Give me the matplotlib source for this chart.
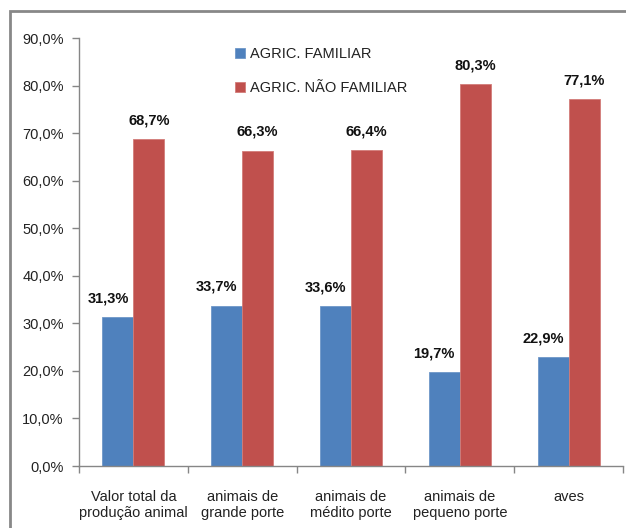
import matplotlib
matplotlib.use("Agg")
import matplotlib.pyplot as plt
from matplotlib.patches import Rectangle
import numpy as np

categories = ["Valor total da\nprodução animal", "animais de\ngrande porte",
              "animais de\nmédito porte", "animais de\npequeno porte", "aves"]
familiar = [31.3, 33.7, 33.6, 19.7, 22.9]
nao_familiar = [68.7, 66.3, 66.4, 80.3, 77.1]
series_names = ["AGRIC. FAMILIAR", "AGRIC. NÃO FAMILIAR"]
yticks = [0, 10, 20, 30, 40, 50, 60, 70, 80, 90]

plt.rcParams['font.family'] = ["Liberation Sans", "DejaVu Sans"]
FS = 10.5

W, H = 626, 528
fig = plt.figure(figsize=(W/100, H/100), dpi=100)
ax = fig.add_axes([79/W, 1 - 466/H, (623-79)/W, (466-38)/H])

x = np.arange(len(categories))
bw = 0.285
blue = "#4F81BD"
red = "#C0504D"
ax.bar(x - bw/2, familiar, bw, color=blue, edgecolor="#6E97C8", linewidth=0.6, label=series_names[0])
ax.bar(x + bw/2, nao_familiar, bw, color=red, edgecolor="#D27C79", linewidth=0.6, label=series_names[1])

for xi, v in zip(x, familiar):
    ax.annotate(f"{v:.1f}%".replace(".", ","), (xi - bw/2, v), xytext=(-10, 12),
                textcoords="offset pixels", ha="center", va="bottom",
                fontsize=FS, fontweight="bold", color="#111111")
for xi, v in zip(x, nao_familiar):
    ax.annotate(f"{v:.1f}%".replace(".", ","), (xi + bw/2, v), xytext=(0, 12),
                textcoords="offset pixels", ha="center", va="bottom",
                fontsize=FS, fontweight="bold", color="#111111")

ax.set_xlim(-0.5, len(categories) - 0.5)
ax.set_ylim(0, 90)
ax.set_yticks(yticks)
ax.set_yticklabels([f"{t:.1f}%".replace(".", ",") for t in yticks], fontsize=FS, color="#222222")
ax.set_xticks(x)
ax.set_xticklabels(categories, fontsize=FS, linespacing=1.2, color="#222222")
ax.set_xticks(np.arange(-0.5, len(categories)), minor=True)
ax.tick_params(axis="x", which="major", length=0, pad=17)
ax.tick_params(axis="x", which="minor", length=5, color="#868686", width=1)
ax.tick_params(axis="y", length=5, color="#868686", width=1, pad=6)

for s in ["top", "right"]:
    ax.spines[s].set_visible(False)
for s in ["left", "bottom"]:
    ax.spines[s].set_color("#868686")
    ax.spines[s].set_linewidth(1)

ax.legend(loc="upper left", bbox_to_anchor=((229 - 79) / (623 - 79), 1.0 - 3/428), frameon=False,
          fontsize=FS, handlelength=0.7, handleheight=0.7, handletextpad=0.35,
          labelspacing=1.4, borderaxespad=0, labelcolor="#222222")

fig.patches.append(Rectangle((10/W, -0.1), 1.2, 1.1 - 11/H, transform=fig.transFigure,
                             fill=False, edgecolor="#888888", linewidth=2))

fig.savefig("out.png", dpi=100)
